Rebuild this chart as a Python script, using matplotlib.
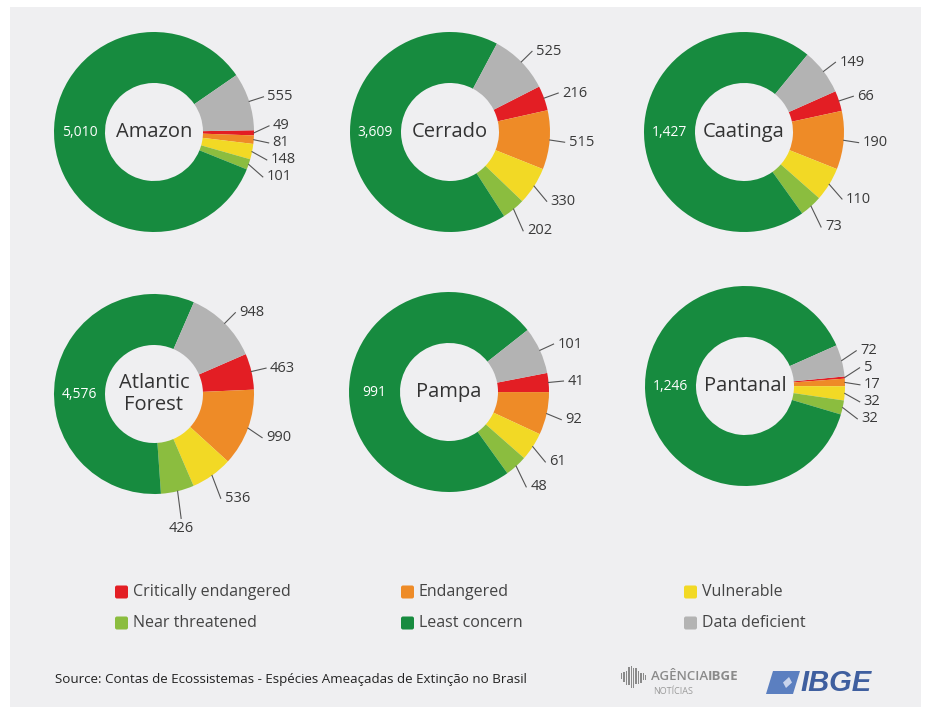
import numpy as np
import matplotlib.pyplot as plt
from matplotlib.patches import Rectangle, FancyBboxPatch, Polygon

# data
regions = ['Amazon', 'Cerrado', 'Caatinga', 'Atlantic\nForest', 'Pampa', 'Pantanal']
critically = [49, 216, 66, 463, 41, 5]
endangered = [81, 515, 190, 990, 92, 17]
vulnerable = [148, 330, 110, 536, 61, 32]
near_threatened = [101, 202, 73, 426, 48, 32]
least_concern = [5010, 3609, 1427, 4576, 991, 1246]
data_deficient = [555, 525, 149, 948, 101, 72]

categories = ['Critically endangered', 'Endangered', 'Vulnerable',
              'Near threatened', 'Least concern', 'Data deficient']
colors = ['#E31E24', '#EE8B27', '#F2D925', '#8BBD3F', '#178B3F', '#B3B3B3']

# layout (pixels from top-left) and first-slice angle of each donut
centers = [(154, 132), (450, 132), (744, 132), (154, 394), (449, 392), (745, 386)]
start_angles = [1, 27, 24, 23.5, 11, 5.5]

W, H = 927, 710
BG = '#EFEFF1'
fig = plt.figure(figsize=(W / 100, H / 100), dpi=100)
fig.patch.set_facecolor('white')
fig.patches.append(Rectangle((10 / W, 1 - 707 / H), 911 / W, 700 / H,
                             transform=fig.transFigure, facecolor=BG,
                             edgecolor='none', zorder=-10))

NUM_FONT = ['Open Sans', 'DejaVu Sans']
R = 100  # donut outer radius in px

for k, name in enumerate(regions):
    cx, cy = centers[k]
    aw, ah = 340, 320
    ax = fig.add_axes([(cx - aw / 2) / W, 1 - (cy + ah / 2) / H, aw / W, ah / H])
    vals = [critically[k], endangered[k], vulnerable[k],
            near_threatened[k], least_concern[k], data_deficient[k]]
    wedges, _ = ax.pie(vals, colors=colors, startangle=start_angles[k],
                       counterclock=False, radius=1.0,
                       wedgeprops=dict(width=0.51, edgecolor='none'))
    ax.set_xlim(-aw / 2 / R, aw / 2 / R)
    ax.set_ylim(-ah / 2 / R, ah / 2 / R)
    ax.set_aspect('equal')
    ax.axis('off')

    ax.text(0, 0, name, ha='center', va='center', fontsize=14.5,
            color='#333333', family=NUM_FONT, linespacing=1.1)
    ax.text(-0.745, 0, f'{least_concern[k]:,}', ha='center', va='center',
            fontsize=10, color='white', family=NUM_FONT)

    # outer labels with leader lines
    labs = []
    for i in [5, 0, 1, 2, 3]:
        th = np.radians((wedges[i].theta1 + wedges[i].theta2) / 2)
        s = np.sin(th)
        labs.append([th, 1.15 * np.cos(th), 1.15 * s - 0.13 * max(0, -s), vals[i]])
    right = [l for l in labs if np.cos(l[0]) > 0.35]
    right.sort(key=lambda l: -l[2])
    d = 0.17
    for _ in range(200):
        for a, b in zip(right[:-1], right[1:]):
            gap = a[2] - b[2]
            if gap < d:
                a[2] += (d - gap) / 2
                b[2] -= (d - gap) / 2
    for th, px, py, v in labs:
        ax.plot([np.cos(th), px], [np.sin(th), py], color='#555555', lw=0.8)
        if np.cos(th) > 0.35:
            ax.text(px + 0.04, py, f'{v:,}', ha='left', va='center',
                    fontsize=10.5, color='#3A3A3A', family=NUM_FONT)
        else:
            ax.text(px, py - 0.03, f'{v:,}', ha='center', va='top',
                    fontsize=10.5, color='#3A3A3A', family=NUM_FONT)

# overlay axes in pixel coordinates for legend, source and logos
ov = fig.add_axes([0, 0, 1, 1])
ov.set_xlim(0, W)
ov.set_ylim(H, 0)
ov.axis('off')
ov.patch.set_alpha(0)

leg_x = [114, 400, 683]
leg_y = [592, 623]
for i, (lab, col) in enumerate(zip(categories, colors)):
    x = leg_x[i % 3]
    y = leg_y[i // 3]
    ov.add_patch(FancyBboxPatch((x + 1, y - 6.5), 13, 13,
                                boxstyle='round,pad=0,rounding_size=2',
                                facecolor=col, edgecolor='none'))
    ov.text(x + 19, y, lab, ha='left', va='center', fontsize=11.5,
            color='#444444', family=NUM_FONT)

ov.text(55, 680, 'Source: Contas de Ecossistemas - Espécies Ameaçadas de Extinção no Brasil',
        ha='left', va='center', fontsize=9.6, color='#222222', family=NUM_FONT)

# Agência IBGE Notícias mark
bar_h = [6, 10, 14, 18, 22, 20, 16, 13, 10, 7, 5]
for j, h in enumerate(bar_h):
    ov.add_patch(Rectangle((621 + j * 2.4, 676 - h / 2 + (j % 3)), 1.4, h,
                           facecolor='#8A8A8A', edgecolor='none'))
ov.text(651, 676, 'AGÊNCIA', ha='left', va='center', fontsize=9.5,
        color='#8A8A8A', family=NUM_FONT, fontweight='semibold')
ov.text(708, 676, 'IBGE', ha='left', va='center', fontsize=9.5,
        color='#8A8A8A', family=NUM_FONT, fontweight='bold')
ov.text(653, 691, 'NOTÍCIAS', ha='left', va='center', fontsize=6.5,
        color='#9A9A9A', family=NUM_FONT)

# IBGE logo
ov.add_patch(Polygon([[773, 671], [800, 671], [793, 694], [766, 694]],
                     closed=True, facecolor='#5B7FC0', edgecolor='none'))
ov.add_patch(Polygon([[783, 682.5], [789, 677], [792, 682.5], [786, 688]],
                     closed=True, facecolor='#C8D4EC', edgecolor='none'))
ov.text(800, 683, 'IBGE', ha='left', va='center', fontsize=21,
        color='#3F5F9F', family=['Liberation Sans', 'DejaVu Sans'],
        fontweight='bold', fontstyle='italic')

fig.savefig('out.png', dpi=100, facecolor=fig.get_facecolor())
